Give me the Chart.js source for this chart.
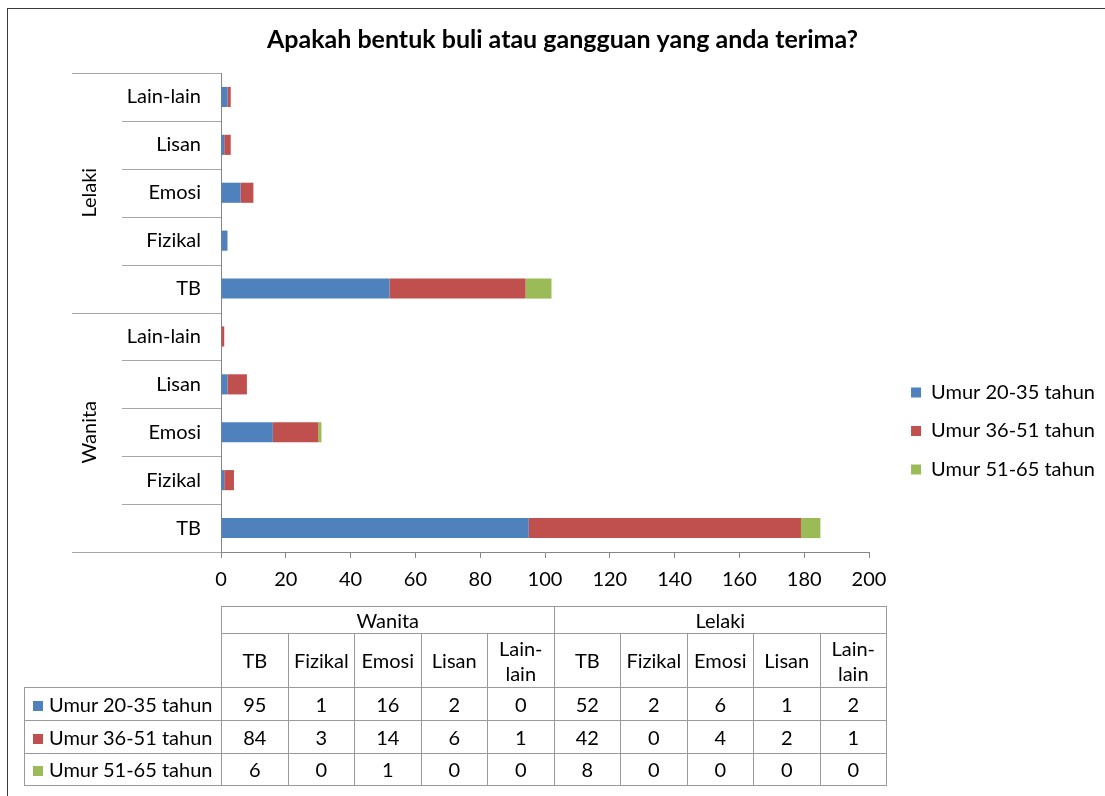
<!DOCTYPE html>
<html>
<head>
<meta charset="utf-8">
<script src="https://cdn.jsdelivr.net/npm/chart.js@4.4.0/dist/chart.umd.min.js"></script>
<style>
  html, body { margin: 0; padding: 0; background: #fff; }
  body { width: 1105px; height: 796px; position: relative; overflow: hidden; font-family: Lato, "Liberation Sans", sans-serif; }
  #frame { position: absolute; left: 7px; top: 8px; width: 1110px; height: 800px; border-left: 1px solid #3a3a3a; border-top: 1px solid #3a3a3a; box-sizing: border-box; }
  #wrap { position: absolute; left: 0; top: 0; width: 1105px; height: 796px; }
  #dataTable { position: absolute; left: 24px; top: 606px; width: 862px; border-collapse: collapse; font-size: 20px; color: #000; table-layout: fixed; }
  #dataTable td { border: 1px solid #9a9a9a; text-align: center; padding: 0; line-height: 25px; overflow: hidden; }
  #dataTable td.blank { border: none; }
  #dataTable td.rowHead { text-align: left; padding-left: 8px; white-space: nowrap; }
  .swatch { display: inline-block; width: 10px; height: 10px; margin-right: 6px; vertical-align: 1px; }
</style>
</head>
<body>
<div id="frame"></div>
<div id="wrap"><canvas id="chart" width="1105" height="796"></canvas></div>
<table id="dataTable"></table>
<script>
// categories
const groups = ["Wanita", "Lelaki"];
const types = ["TB", "Fizikal", "Emosi", "Lisan", "Lain-lain"];
const seriesNames = ["Umur 20-35 tahun", "Umur 36-51 tahun", "Umur 51-65 tahun"];
const seriesColors = ["#4F81BD", "#C0504D", "#9BBB59"];

// values per series, in table order: Wanita TB..Lain-lain, then Lelaki TB..Lain-lain
const umur20to35 = [95, 1, 16, 2, 0, 52, 2, 6, 1, 2];
const umur36to51 = [84, 3, 14, 6, 1, 42, 0, 4, 2, 1];
const umur51to65 = [6, 0, 1, 0, 0, 8, 0, 0, 0, 0];
const seriesValues = [umur20to35, umur36to51, umur51to65];

const xTicks = [0, 20, 40, 60, 80, 100, 120, 140, 160, 180, 200];

const FONT = "Lato, 'Liberation Sans', sans-serif";
const FS = 20;

// chart rows go top-down: Lelaki Lain-lain ... Wanita TB, i.e. reverse of table order
const order = [...Array(10).keys()].reverse();
const rowLabels = order.map(i => types[i % 5]);

// group separators and the rotated group names on the left of the y axis
const groupAxisPlugin = {
  id: "groupAxis",
  afterDraw(chart) {
    const { ctx, chartArea } = chart;
    const y = chart.scales.y;
    const n = rowLabels.length;
    const edge = i => {
      if (i === 0) return chartArea.top;
      if (i === n) return chartArea.bottom;
      return (y.getPixelForValue(i - 1) + y.getPixelForValue(i)) / 2;
    };
    ctx.save();
    ctx.strokeStyle = "#a6a6a6";
    ctx.lineWidth = 1;
    for (let i = 0; i <= n; i++) {
      const py = Math.round(edge(i)) + 0.5;
      ctx.beginPath();
      ctx.moveTo(i % 5 === 0 ? 72 : 122, py);
      ctx.lineTo(chartArea.left, py);
      ctx.stroke();
    }
    ctx.fillStyle = "#000";
    ctx.font = FS + "px " + FONT;
    ctx.textAlign = "center";
    ctx.textBaseline = "middle";
    [groups[1], groups[0]].forEach((g, k) => {
      const cy = (edge(k * 5) + edge(k * 5 + 5)) / 2;
      ctx.save();
      ctx.translate(90, cy);
      ctx.rotate(-Math.PI / 2);
      ctx.fillText(g, 0, 0);
      ctx.restore();
    });
    ctx.restore();
  }
};

function buildChart() {
  const datasets = seriesNames.map((name, s) => ({
    label: name,
    data: order.map(i => seriesValues[s][i]),
    backgroundColor: seriesColors[s],
    borderWidth: 0,
    categoryPercentage: 0.42,
    barPercentage: 1
  }));

  // legend width, so the plot ends at the same place as in the original
  const mctx = document.createElement("canvas").getContext("2d");
  mctx.font = FS + "px " + FONT;
  const textW = Math.max(...seriesNames.map(t => mctx.measureText(t).width));
  const legPad = 18.5;
  const legendW = legPad + 10 + FS / 2 + textW + 10;
  const gapW = Math.max(0, 1105 - 869 - legendW);

  new Chart(document.getElementById("chart"), {
    type: "bar",
    data: { labels: rowLabels, datasets },
    options: {
      indexAxis: "y",
      responsive: false,
      animation: false,
      layout: { padding: { left: 20, right: 0, top: 18, bottom: 200 } },
      scales: {
        x: {
          stacked: true,
          min: 0,
          max: 200,
          afterBuildTicks: s => { s.ticks = xTicks.map(v => ({ value: v })); },
          grid: { drawOnChartArea: false, drawTicks: true, tickLength: 6, color: "#868686" },
          border: { color: "#868686" },
          ticks: { color: "#000", font: { family: FONT, size: FS }, padding: 10, maxRotation: 0 },
          afterFit: s => { s.height = 44; }
        },
        y: {
          stacked: true,
          grid: { display: false, drawTicks: false },
          border: { color: "#868686" },
          ticks: { color: "#000", font: { family: FONT, size: FS }, padding: 20 },
          afterFit: s => { s.width = 201; }
        },
        gap: {
          type: "linear",
          position: "right",
          grid: { display: false, drawTicks: false },
          border: { display: false },
          ticks: { display: false },
          afterFit: s => { s.width = gapW; }
        }
      },
      plugins: {
        title: {
          display: true,
          text: "Apakah bentuk buli atau gangguan yang anda terima?",
          color: "#000",
          font: { family: FONT, size: 25, weight: "bold", lineHeight: 1.2 },
          padding: { top: 7, bottom: 18 }
        },
        legend: {
          position: "right",
          align: "start",
          fullSize: false,
          maxWidth: 400,
          title: { display: true, text: " ", font: { size: 10, lineHeight: 1 }, padding: { top: 281, bottom: 0 } },
          labels: { color: "#000", font: { family: FONT, size: FS }, boxWidth: 10, boxHeight: 10, padding: legPad }
        },
        tooltip: { enabled: false }
      }
    },
    plugins: [groupAxisPlugin]
  });
}

// data table under the chart
function buildTable() {
  const table = document.getElementById("dataTable");
  let html = "<colgroup><col style='width:197px'>" + ("<col style='width:66.5px'>").repeat(10) + "</colgroup>";
  html += "<tr style='height:27px'><td class='blank' rowspan='2'></td>" +
    groups.map(g => "<td colspan='5'>" + g + "</td>").join("") + "</tr>";
  html += "<tr style='height:54px'>" + groups.map(() =>
    types.map(t => "<td>" + (t === "Lain-lain" ? "Lain-<br>lain" : t) + "</td>").join("")).join("") + "</tr>";
  const rowH = [33, 33, 32];
  seriesNames.forEach((name, s) => {
    html += "<tr style='height:" + rowH[s] + "px'><td class='rowHead'><span class='swatch' style='background:" +
      seriesColors[s] + "'></span>" + name + "</td>" +
      seriesValues[s].map(v => "<td>" + v + "</td>").join("") + "</tr>";
  });
  table.innerHTML = html;
}

buildTable();
Promise.all([
  document.fonts.load(FS + "px Lato"),
  document.fonts.load("bold 25px Lato")
]).catch(() => {}).then(buildChart);
</script>
</body>
</html>
